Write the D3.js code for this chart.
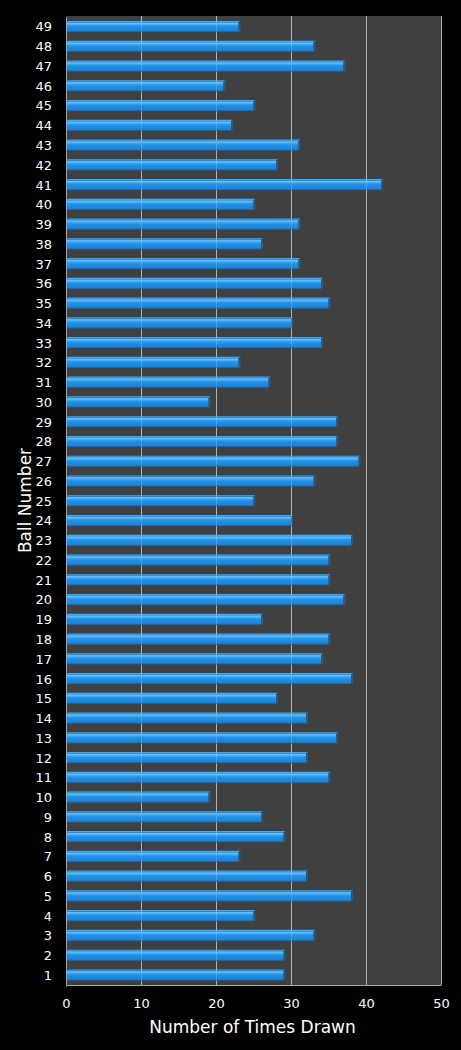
<!DOCTYPE html>
<html>
<head>
<meta charset="utf-8">
<script src="https://cdn.jsdelivr.net/npm/d3@7"></script>
<style>
html,body{margin:0;padding:0;background:#000;}
svg{display:block;}
text{font-family:"DejaVu Sans",Verdana,sans-serif;fill:#fff;}
</style>
</head>
<body>
<svg id="chart" width="461" height="1050"></svg>
<script>
const balls = d3.range(1, 50);
const timesDrawn = [29,29,33,25,38,32,23,29,26,19,35,32,36,32,28,38,34,35,26,37,35,35,38,30,25,33,39,36,36,19,27,23,34,30,35,34,31,26,31,25,42,28,31,22,25,21,37,33,23];
const xTicks = [0,10,20,30,40,50];
const xTitle = "Number of Times Drawn";
const yTitle = "Ball Number";

const data = balls.map((b,i)=>({ball:b, value:timesDrawn[i]}));

const svg = d3.select("#chart");
const m = {left:66, right:441, top:16, bottom:985};

const x = d3.scaleLinear().domain([0,50]).range([m.left, m.right]);
const y = d3.scaleBand().domain(balls.slice().reverse()).range([m.top+1, m.bottom+1]).paddingInner(0.48).paddingOuter(0.26);

const defs = svg.append("defs");
const g1 = defs.append("linearGradient").attr("id","barGrad").attr("x1",0).attr("y1",0).attr("x2",0).attr("y2",1);
g1.append("stop").attr("offset","0%").attr("stop-color","#2a86cc");
g1.append("stop").attr("offset","12%").attr("stop-color","#6cc0f6");
g1.append("stop").attr("offset","30%").attr("stop-color","#34a0ee");
g1.append("stop").attr("offset","45%").attr("stop-color","#1e90e8");
g1.append("stop").attr("offset","82%").attr("stop-color","#1a84d8");
g1.append("stop").attr("offset","100%").attr("stop-color","#0d5596");

// plot background
svg.append("rect").attr("x",m.left).attr("y",m.top).attr("width",m.right-m.left).attr("height",m.bottom-m.top).attr("fill","#404040");

// gridlines
svg.append("g").selectAll("line").data(xTicks.slice(1)).join("line")
  .attr("x1",d=>Math.round(x(d))+0.5).attr("x2",d=>Math.round(x(d))+0.5)
  .attr("y1",m.top).attr("y2",m.bottom)
  .attr("stroke","#a6a6a6").attr("stroke-width",1);

// bars
const dep = 2;
const bars = svg.append("g").selectAll("g").data(data).join("g");
bars.append("rect")
  .attr("x",x(0)).attr("y",d=>y(d.ball))
  .attr("width",d=>x(d.value)-x(0)).attr("height",y.bandwidth())
  .attr("fill","url(#barGrad)");
// top face
bars.append("polygon")
  .attr("points",d=>{
    const x0=x(0), x1=x(d.value), yt=y(d.ball);
    return [[x0,yt],[x1,yt],[x1+dep,yt-dep*0.6],[x0+dep,yt-dep*0.6]].map(p=>p.join(",")).join(" ");
  })
  .attr("fill","#4aa6e8");
// end face
bars.append("polygon")
  .attr("points",d=>{
    const x1=x(d.value), yt=y(d.ball), h=y.bandwidth();
    return [[x1,yt],[x1+dep,yt-dep*0.6],[x1+dep,yt+h-dep*0.6],[x1,yt+h]].map(p=>p.join(",")).join(" ");
  })
  .attr("fill","#14609f");

// faint gridlines over bars
svg.append("g").selectAll("line").data(xTicks.slice(1,-1)).join("line")
  .attr("x1",d=>Math.round(x(d))+0.5).attr("x2",d=>Math.round(x(d))+0.5)
  .attr("y1",m.top).attr("y2",m.bottom)
  .attr("stroke","#c8c8c8").attr("stroke-opacity",0.3).attr("stroke-width",1);

// axes
const xAxis = d3.axisBottom(x).tickValues(xTicks).tickSize(0).tickPadding(14);
const gx = svg.append("g").attr("transform",`translate(0,${m.bottom})`).call(xAxis);
gx.select(".domain").attr("stroke","#a6a6a6");
gx.selectAll("text").attr("font-size","13px").attr("fill","#fff").attr("font-family","DejaVu Sans, Verdana, sans-serif");

const yAxis = d3.axisLeft(y).tickSize(0).tickPadding(14);
const gy = svg.append("g").attr("transform",`translate(${m.left},0)`).call(yAxis);
gy.select(".domain").attr("stroke","#a6a6a6");
gy.selectAll("text").attr("font-size","13px").attr("fill","#fff").attr("font-family","DejaVu Sans, Verdana, sans-serif");

// titles
svg.append("text").attr("x",(m.left+m.right)/2 - 1).attr("y",1033).attr("text-anchor","middle")
  .attr("font-size","17px").text(xTitle);
svg.append("text").attr("transform",`translate(31,${(m.top+m.bottom)/2}) rotate(-90)`).attr("text-anchor","middle")
  .attr("font-size","17px").text(yTitle);
</script>
</body>
</html>
